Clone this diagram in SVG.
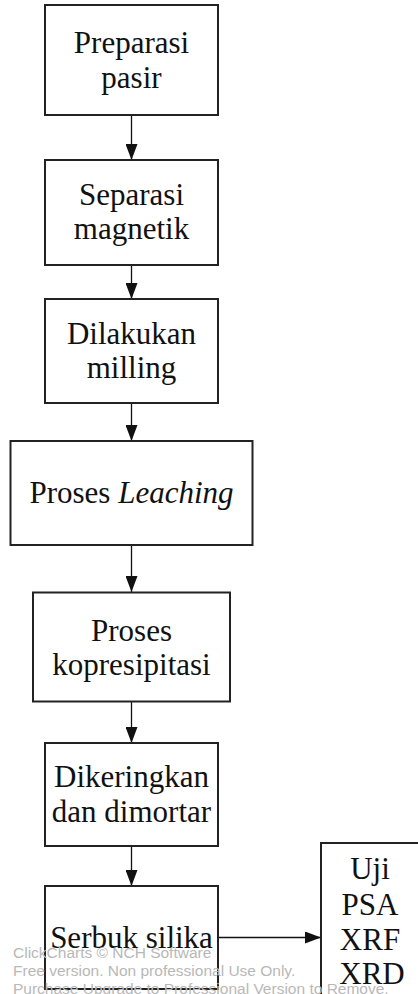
<svg xmlns="http://www.w3.org/2000/svg" width="418" height="994" viewBox="0 0 418 994">
<defs>
<style>
.box{fill:#fff;stroke:#222;stroke-width:2}
.lbl{font-family:"Liberation Serif","Times New Roman",serif;font-size:31px;fill:#111;text-anchor:middle}
.con{stroke:#111;stroke-width:1.3;fill:none}
.wm{font-family:"Liberation Sans",Arial,sans-serif;font-size:15.5px;fill:#b8b8b8}
</style>
<marker id="ah" markerWidth="16" markerHeight="12" refX="16" refY="6" orient="auto" markerUnits="userSpaceOnUse">
<path d="M0,0 L16,6 L0,12 Z" fill="#111"/>
</marker>
</defs>
<rect width="418" height="994" fill="#fff"/>
<g id="connectors">
<line class="con" x1="131.5" y1="115" x2="131.5" y2="160" marker-end="url(#ah)"/>
<line class="con" x1="131.5" y1="265" x2="131.5" y2="299" marker-end="url(#ah)"/>
<line class="con" x1="131.5" y1="403" x2="131.5" y2="441" marker-end="url(#ah)"/>
<line class="con" x1="131.5" y1="545" x2="131.5" y2="592" marker-end="url(#ah)"/>
<line class="con" x1="131.5" y1="702" x2="131.5" y2="743" marker-end="url(#ah)"/>
<line class="con" x1="131.5" y1="846" x2="131.5" y2="886" marker-end="url(#ah)"/>
<line class="con" x1="218" y1="937.5" x2="321" y2="937.5" marker-end="url(#ah)"/>
</g>
<g id="n1">
<rect class="box" x="45" y="5" width="173" height="110"/>
<text class="lbl" x="131.5" y="53">Preparasi</text>
<text class="lbl" x="131.5" y="88">pasir</text>
</g>
<g id="n2">
<rect class="box" x="45" y="160" width="173" height="105"/>
<text class="lbl" x="131.5" y="205">Separasi</text>
<text class="lbl" x="131.5" y="239">magnetik</text>
</g>
<g id="n3">
<rect class="box" x="45" y="299" width="173" height="104"/>
<text class="lbl" x="131.5" y="344">Dilakukan</text>
<text class="lbl" x="131.5" y="378">milling</text>
</g>
<g id="n4">
<rect class="box" x="10.5" y="441" width="242" height="104"/>
<text class="lbl" x="131.5" y="503">Proses <tspan font-style="italic">Leaching</tspan></text>
</g>
<g id="n5">
<rect class="box" x="33" y="592.5" width="197" height="109"/>
<text class="lbl" x="131.5" y="641">Proses</text>
<text class="lbl" x="131.5" y="675">kopresipitasi</text>
</g>
<g id="n6">
<rect class="box" x="45" y="743" width="173" height="103"/>
<text class="lbl" x="131.5" y="787">Dikeringkan</text>
<text class="lbl" x="131.5" y="822">dan dimortar</text>
</g>
<g id="n7">
<rect class="box" x="45" y="886" width="173" height="103"/>
<text class="lbl" x="131.5" y="948">Serbuk silika</text>
</g>
<g id="n8">
<rect class="box" x="321" y="843" width="110" height="160"/>
<text class="lbl" x="370" y="879">Uji</text>
<text class="lbl" x="370" y="915">PSA</text>
<text class="lbl" x="370" y="950">XRF</text>
<text class="lbl" x="372" y="984">XRD</text>
</g>
<g id="watermark">
<text class="wm" x="13" y="958">ClickCharts © NCH Software</text>
<text class="wm" x="13" y="976">Free version. Non professional Use Only.</text>
<text class="wm" x="13" y="994">Purchase Upgrade to Professional Version to Remove.</text>
</g>
</svg>
